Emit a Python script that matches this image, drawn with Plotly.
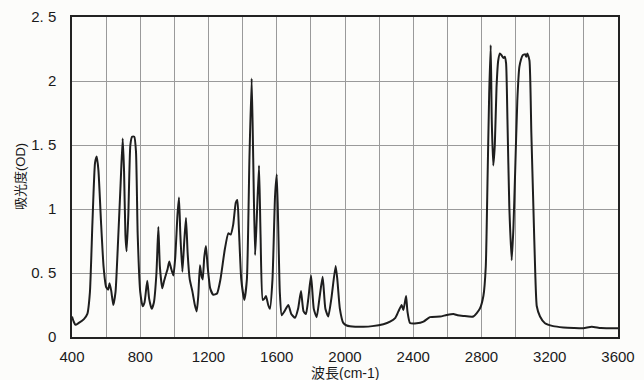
import plotly.graph_objects as go

wavenumber = [400, 410, 420, 440, 470, 490, 505, 520, 535, 545, 555, 570, 585, 600, 612, 620, 630, 642, 655, 670,
              685, 697, 705, 713, 720, 730, 742, 752, 765, 775, 785, 800, 814, 825, 841, 852, 867, 880, 895, 906,
              915, 929, 940, 951, 960, 970, 980, 994, 1005, 1018, 1027, 1035, 1047, 1058, 1068, 1078, 1090, 1105, 1120, 1131,
              1140, 1150, 1160, 1166, 1175, 1185, 1195, 1210, 1228, 1250, 1270, 1295, 1316, 1330, 1345, 1360, 1369, 1378, 1392, 1410,
              1425, 1440, 1453, 1462, 1473, 1482, 1496, 1505, 1518, 1528, 1537, 1550, 1560, 1575, 1590, 1600, 1608, 1618, 1629, 1645,
              1668, 1685, 1707, 1725, 1742, 1757, 1771, 1785, 1801, 1817, 1834, 1850, 1869, 1885, 1902, 1920, 1945, 1955, 1970, 1990,
              2010, 2060, 2107, 2160, 2225, 2264, 2295, 2313, 2332, 2342, 2358, 2366, 2381, 2420, 2460, 2498, 2557, 2596, 2635, 2660,
              2693, 2752, 2790, 2811, 2825, 2835, 2845, 2854, 2860, 2869, 2878, 2888, 2898, 2908, 2918, 2928, 2936, 2944, 2952, 2963,
              2977, 2987, 2997, 3010, 3022, 3032, 3041, 3055, 3062, 3069, 3081, 3092, 3104, 3115, 3124, 3143, 3172, 3220, 3280, 3340,
              3397, 3446, 3500, 3600]
absorbance = [0.16, 0.12, 0.095, 0.11, 0.14, 0.18, 0.35, 0.9, 1.36, 1.41, 1.3, 0.9, 0.55, 0.39, 0.37, 0.42, 0.36, 0.25, 0.35, 0.75,
              1.2, 1.55, 1.3, 0.8, 0.67, 0.95, 1.5, 1.565, 1.565, 1.45, 0.8, 0.35, 0.24, 0.27, 0.44, 0.3, 0.22, 0.27, 0.5, 0.86,
              0.55, 0.38, 0.44, 0.49, 0.53, 0.59, 0.54, 0.48, 0.62, 0.95, 1.09, 0.8, 0.51, 0.75, 0.93, 0.65, 0.45, 0.36, 0.25, 0.2,
              0.32, 0.56, 0.47, 0.45, 0.62, 0.71, 0.55, 0.38, 0.33, 0.34, 0.45, 0.68, 0.81, 0.8, 0.88, 1.05, 1.07, 0.85, 0.45, 0.29,
              0.45, 1.4, 2.02, 1.4, 0.64, 0.9, 1.34, 0.8, 0.29, 0.3, 0.32, 0.25, 0.22, 0.45, 1.1, 1.27, 0.9, 0.35, 0.17, 0.2,
              0.25, 0.18, 0.15, 0.22, 0.36, 0.2, 0.18, 0.3, 0.48, 0.22, 0.155, 0.3, 0.47, 0.22, 0.16, 0.3, 0.555, 0.45, 0.22, 0.11,
              0.09, 0.08, 0.08, 0.085, 0.1, 0.12, 0.15, 0.2, 0.25, 0.21, 0.32, 0.2, 0.11, 0.107, 0.12, 0.155, 0.16, 0.172, 0.18, 0.17,
              0.165, 0.16, 0.22, 0.32, 0.55, 1.2, 1.9, 2.28, 1.7, 1.34, 1.5, 1.95, 2.16, 2.215, 2.2, 2.18, 2.19, 2.14, 1.7, 1.02,
              0.6, 0.85, 1.28, 1.85, 2.11, 2.17, 2.2, 2.21, 2.19, 2.215, 2.16, 1.6, 1.02, 0.5, 0.24, 0.16, 0.107, 0.085, 0.075, 0.07,
              0.068, 0.08, 0.07, 0.068]

x_ticks = [400, 800, 1200, 1600, 2000, 2400, 2800, 3200, 3600]
y_ticks = [0, 0.5, 1, 1.5, 2, 2.5]
y_ticktext = ["0", "0. 5", "1", "1. 5", "2", "2. 5"]
x_title = "波長(cm-1)"
y_title = "吸光度(OD)"

FONT = "Liberation Sans, Noto Sans CJK JP, sans-serif"

fig = go.Figure()
fig.add_trace(go.Scatter(
    x=wavenumber, y=absorbance, mode="lines",
    line=dict(color="#1e1e1e", width=2, shape="spline", smoothing=0.5),
    showlegend=False, hoverinfo="skip"))

fig.update_layout(
    width=644, height=380,
    margin=dict(l=72, r=26, t=17, b=43),
    paper_bgcolor="#fcfcfa", plot_bgcolor="#fcfcfa",
    font=dict(family=FONT, color="#1a1a1a", size=14),
)
fig.update_xaxes(
    range=[400, 3600], tickvals=x_ticks, ticktext=[str(v) for v in x_ticks],
    showgrid=True, gridcolor="#9a9a9a", gridwidth=1,
    minor=dict(dtick=200, tick0=400, showgrid=True, gridcolor="#9a9a9a", gridwidth=1),
    showline=True, linecolor="#222", linewidth=1.5, mirror=True,
    ticks="outside", ticklen=5, tickcolor="rgba(0,0,0,0)", zeroline=False, tickfont=dict(size=15),
    automargin=False,
)
fig.update_yaxes(
    range=[0, 2.5], tickvals=y_ticks, ticktext=y_ticktext,
    showgrid=True, gridcolor="#9a9a9a", gridwidth=1,
    showline=True, linecolor="#222", linewidth=1.5, mirror=True,
    ticks="outside", ticklen=11, tickcolor="rgba(0,0,0,0)", zeroline=False, tickfont=dict(size=15),
    automargin=False,
)
fig.add_annotation(text=x_title, xref="paper", yref="paper", x=0.5, y=0,
                   yshift=-36, xanchor="center", yanchor="middle", showarrow=False,
                   font=dict(size=14))
fig.add_annotation(text=y_title, xref="paper", yref="paper", x=0, y=0.5,
                   xshift=-52, xanchor="center", yanchor="middle", showarrow=False,
                   textangle=-90, font=dict(size=13))

fig.write_html("out.html")
